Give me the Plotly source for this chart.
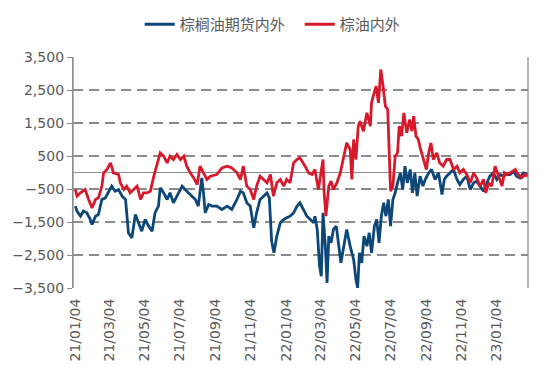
import pandas as pd
import plotly.graph_objects as go

start = pd.Timestamp("2021-01-04")

# 棕榈油期货内外: day offset from 2021-01-04, value
blue_days = [0, 3, 9, 14, 20, 26, 29, 35, 40, 46, 52, 58, 63, 69, 75, 81, 87, 92, 98, 104,
             110, 115, 121, 127, 133, 138, 144, 147, 153, 159, 164, 170, 176, 185, 190, 196,
             202, 208, 213, 219, 222, 225, 231, 237, 245, 254, 263, 271, 280, 286, 291, 297,
             303, 309, 314, 320, 326, 332, 336, 340, 344, 349, 355, 361, 366, 372, 378, 384,
             389, 395, 401, 407, 413, 415, 419, 423, 426, 429, 433, 436, 439, 443, 447, 452,
             456, 460, 464, 470, 476, 482, 486, 489, 492, 496, 500, 505, 509, 513, 518, 522,
             526, 530, 534, 538, 542, 546, 550, 554, 558, 563, 567, 571, 575, 580, 584, 588,
             592, 597, 602, 606, 612, 617, 623, 629, 635, 639, 643, 649, 655, 661, 666, 672,
             678, 684, 690, 695, 701, 707, 713, 718, 724, 730, 736, 741, 747, 753, 759, 764,
             770, 776, 784]
blue_vals = [-1020, -1172, -1323, -1172, -1222, -1424, -1576, -1323, -1273, -818, -768, -566,
             -414, -566, -515, -717, -818, -1828, -1980, -1273, -1525, -1778, -1424, -1626,
             -1778, -1222, -1020, -465, -616, -818, -616, -919, -717, -414, -515, -616, -717,
             -818, -1020, -162, -616, -1222, -970, -1020, -1020, -1121, -1020, -1121, -818,
             -566, -616, -919, -1020, -1677, -1222, -818, -717, -616, -768, -2081, -2434,
             -1929, -1525, -1424, -1374, -1323, -1222, -1020, -919, -1121, -1323, -1424,
             -1525, -1323, -1727, -2838, -3141, -1222, -2232, -3343, -1929, -2131, -1727,
             -1626, -2232, -2737, -2333, -1727, -2232, -2636, -3242, -3500, -2434, -2737,
             -1929, -2232, -1828, -2434, -1626, -1424, -2131, -1323, -919, -1323, -818,
             -1626, -818, -616, -313, -10, -515, 192, -313, 91, -616, -10, -717, -111, -414,
             -212, -10, 91, -212, -10, -667, -212, -111, -10, 91, -212, -364, -212, -111,
             -515, -313, -263, -414, -566, -313, -111, -10, -212, -61, -111, -61, -61, 40,
             -111, -162, -10, -61]

# 棕油内外
red_days = [0, 3, 9, 17, 23, 29, 35, 40, 46, 49, 55, 61, 66, 75, 78, 84, 89, 95, 101, 107,
            113, 118, 124, 130, 136, 141, 147, 153, 159, 164, 170, 176, 182, 188, 193, 199,
            205, 211, 216, 222, 228, 234, 245, 254, 263, 271, 280, 286, 291, 297, 303, 309,
            314, 320, 326, 332, 338, 343, 349, 355, 361, 366, 372, 378, 384, 389, 398, 404,
            410, 415, 421, 425, 429, 431, 434, 439, 443, 447, 453, 459, 464, 470, 476, 479,
            482, 486, 490, 493, 499, 505, 511, 513, 516, 521, 525, 529, 533, 537, 541, 544,
            546, 550, 554, 558, 561, 565, 569, 574, 579, 583, 586, 590, 594, 598, 604, 608,
            612, 616, 620, 626, 631, 637, 643, 649, 655, 661, 666, 672, 678, 684, 690, 695,
            701, 707, 711, 716, 721, 727, 733, 739, 743, 747, 753, 762, 767, 773, 779, 784]
red_vals = [-515, -717, -616, -515, -818, -1071, -818, -768, -414, -10, 91, 293, -10, -61,
            -313, -515, -414, -616, -515, -414, -818, -616, -616, -566, -111, 192, 596, 495,
            293, 495, 394, 545, 394, 495, 192, -10, -162, -364, 192, -10, -212, -111, -61,
            141, 192, 141, -10, -212, 192, -414, -515, -818, -414, -111, -212, -313, -61,
            -717, -313, -212, -414, -212, -313, 293, 394, 444, 192, -10, -61, 91, -515, -10,
            394, -616, -1323, -414, -263, -515, -313, -10, 394, 899, 697, -212, 1000, 394,
            1404, 1555, 1252, 1808, 1404, 2111, 2313, 2616, 2111, 3121, 2616, 2010, 1909,
            495, -566, -414, 495, 596, 1404, 1101, 1808, 1202, 1606, 1252, 1707, 1101, 1000,
            697, 293, 91, 596, 899, 394, 596, 293, 192, 394, 394, 91, 192, -10, 91, -61,
            -313, -10, -162, -414, -212, -616, -313, -414, 192, -111, -414, -10, -61, -10,
            91, -61, -162, -61, -111]

y_ticks = [-3500, -2500, -1500, -500, 500, 1500, 2500, 3500]
x_ticks = ["2021-01-04", "2021-03-04", "2021-05-04", "2021-07-04", "2021-09-04",
           "2021-11-04", "2022-01-04", "2022-03-04", "2022-05-04", "2022-07-04",
           "2022-09-04", "2022-11-04", "2023-01-04"]

blue_dates = start + pd.to_timedelta(blue_days, unit="D")
red_dates = start + pd.to_timedelta(red_days, unit="D")

FONT = "DejaVu Sans, Noto Sans CJK SC, sans-serif"
GRID = "#8c8c8c"
AXIS = "#8c8c8c"

fig = go.Figure()
# carrier for the dashed grid axis (no visible mark)
fig.add_trace(go.Scatter(x=[blue_dates[0]], y=[blue_vals[0]], yaxis="y2", mode="lines",
                         showlegend=False, hoverinfo="skip", line=dict(width=0)))
fig.add_trace(go.Scatter(x=blue_dates, y=blue_vals, mode="lines", name="棕榈油期货内外",
                         line=dict(color="#0d4678", width=2.8)))
fig.add_trace(go.Scatter(x=red_dates, y=red_vals, mode="lines", name="棕油内外",
                         line=dict(color="#d7192b", width=2.8)))

# left and right frame lines of the plot area
for xp in (0, 1):
    fig.add_shape(type="line", xref="paper", yref="paper", x0=xp, x1=xp, y0=0, y1=1,
                  line=dict(color=AXIS, width=1.3), layer="above")

fig.update_layout(
    width=542, height=361,
    margin=dict(l=65, r=22, t=49, b=81, autoexpand=False),
    paper_bgcolor="white", plot_bgcolor="white",
    font=dict(family=FONT, size=14, color="#595959"),
    showlegend=True,
    legend=dict(orientation="h", xref="container", yref="container",
                x=0.243, xanchor="left", y=1.0, yanchor="top",
                entrywidth=115, entrywidthmode="pixels",
                font=dict(family="Noto Sans CJK SC, sans-serif", size=15, color="#595959"),
                bgcolor="rgba(0,0,0,0)"),
    xaxis=dict(type="date", range=["2020-12-31", "2023-02-27"], automargin=False,
               tickvals=x_ticks, tickformat="%y/%m/%d", tickangle=-90,
               showgrid=False, zeroline=False, showline=False,
               ticks="outside", ticklen=4, tickcolor="rgba(0,0,0,0)",
               tickfont=dict(size=14, color="#595959")),
    yaxis=dict(range=[-3500, 3500], tickvals=y_ticks, tickformat=",", automargin=False,
               showgrid=False, zeroline=True, zerolinecolor=AXIS, zerolinewidth=1.3,
               showline=True, linecolor=AXIS, linewidth=1.3,
               ticks="outside", ticklen=5, tickcolor=AXIS,
               tickfont=dict(size=14, color="#595959")),
    yaxis2=dict(overlaying="y", range=[-3500, 3500], tickvals=y_ticks[:-1], automargin=False,
                showgrid=True, gridcolor=GRID, gridwidth=1.6, griddash="10px,6px",
                showticklabels=False, ticks="", showline=False, zeroline=False, side="left"),
)

fig.write_html("out.html")
